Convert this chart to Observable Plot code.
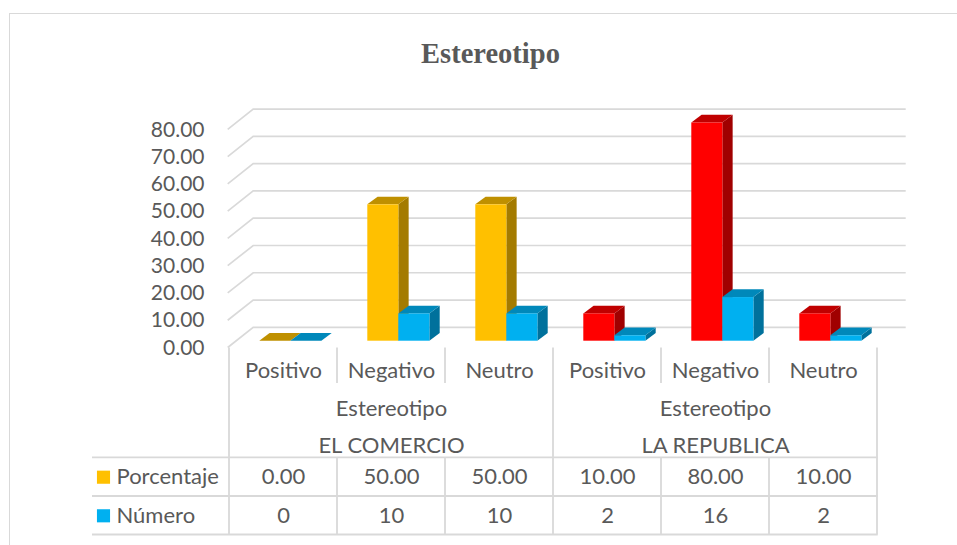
<!DOCTYPE html>
<html>
<head>
<meta charset="utf-8">
<script src="https://cdn.jsdelivr.net/npm/d3@7"></script>
<script src="https://cdn.jsdelivr.net/npm/@observablehq/plot@0.6"></script>
<style>
html, body { margin: 0; padding: 0; background: #fff; overflow: hidden; width: 957px; height: 545px; }
#frame { position: absolute; left: 9px; top: 13px; width: 963px; height: 620px; border: 1.5px solid #d9d9d9; box-sizing: border-box; }
#title { position: absolute; left: 9px; top: 38px; width: 963px; text-align: center; font-family: "Liberation Serif", serif; font-weight: bold; font-size: 28.5px; line-height: 32px; color: #595959; }
#chart { position: absolute; left: 0; top: 90px; }
</style>
</head>
<body>
<div id="frame"></div>
<div id="title">Estereotipo</div>
<div id="chart"></div>
<script>
// ---- data ----
const groups = ["EL COMERCIO", "LA REPUBLICA"];
const groupTitle = "Estereotipo";
const categories = ["Positivo", "Negativo", "Neutro"];
const seriesNames = ["Porcentaje", "Número"];
const porcentaje = [0.00, 50.00, 50.00, 10.00, 80.00, 10.00];
const numero = [0, 10, 10, 2, 16, 2];
const yTicks = [0, 10, 20, 30, 40, 50, 60, 70, 80];

// ---- styles ----
const porcentajeColors = {
  "EL COMERCIO": ["#FFC000", "#BF9000", "#A47B00"],
  "LA REPUBLICA": ["#FF0000", "#C00000", "#A00000"]
};
const numeroColors = ["#00B0F0", "#0088BA", "#00719C"];
const legendColors = ["#FFC000", "#00B0F0"];
const gridColor = "#d9d9d9";
const textColor = "#595959";

// 3D offsets (pixels)
const DX = 25.5, DY = -20.2;      // wall depth
const BX = 7.35, BY = -6.8;       // bar placement inside depth
const DXb = 10.3, DYb = -7.7;     // bar depth

const rows = [];
groups.forEach((g, gi) => categories.forEach((c, ci) => {
  const i = gi * categories.length + ci;
  rows.push({key: g + "|" + c, group: g, category: c, porcentaje: porcentaje[i], numero: numero[i]});
}));
const groupRows = groups.map(g => ({key: g + "|" + categories[1], group: g}));

function walls(index, {x, y}) {
  const g = d3.create("svg:g").attr("fill", "none").attr("stroke", gridColor).attr("stroke-width", 1.7);
  const [x0, x1] = x.range();
  for (const v of yTicks) {
    const yy = y(v);
    g.append("path").attr("d", `M${x0},${yy}L${x0 + DX},${yy + DY}L${x1 + DX + 2.5},${yy + DY}`);
  }
  return g.node();
}

function bars(index, {x, y}) {
  const g = d3.create("svg:g");
  const bw = x.bandwidth();
  const w = bw * 0.2875;
  rows.forEach(d => {
    const cx = x(d.key) + bw / 2 + BX;
    [[d.porcentaje, porcentajeColors[d.group], cx - w], [d.numero, numeroColors, cx]].forEach(([v, col, xl]) => {
      const base = y(0) + BY, top = y(v) + BY, xr = xl + w;
      g.append("path").attr("d", `M${xr},${top}L${xr + DXb},${top + DYb}L${xr + DXb},${base + DYb}L${xr},${base}Z`).attr("fill", col[2]);
      g.append("path").attr("d", `M${xl},${top}L${xr},${top}L${xr + DXb},${top + DYb}L${xl + DXb},${top + DYb}Z`).attr("fill", col[1]);
      g.append("rect").attr("x", xl).attr("y", top).attr("width", w).attr("height", base - top).attr("fill", col[0]);
    });
  });
  return g.node();
}

function tableLines(index, {x, y}) {
  const g = d3.create("svg:g").attr("fill", "none").attr("stroke", gridColor).attr("stroke-width", 1.8);
  const bw = x.bandwidth();
  const [x0, x1] = x.range();
  const floor = y(0);
  const catBottom = floor + 35.5;
  const r1 = floor + 109.8, r2 = floor + 148.5, r3 = floor + 187;
  const n = rows.length;
  for (let k = 0; k <= n; k++) {
    const xb = k < n ? x(rows[k].key) : x(rows[n - 1].key) + bw;
    if (k % categories.length === 0) {
      g.append("path").attr("d", `M${xb},${floor}L${xb},${r3}`);
    } else {
      g.append("path").attr("d", `M${xb},${floor}L${xb},${catBottom}M${xb},${r1}L${xb},${r3}`);
    }
  }
  for (const r of [r1, r2, r3]) {
    g.append("path").attr("d", `M${x0 - 135.7},${r}L${x1},${r}`);
  }
  return g.node();
}

const fs = 21, fsT = 22;
const common = {frameAnchor: "bottom", lineAnchor: "middle", fontSize: fsT, fill: textColor};
const marks = [
  walls,
  Plot.axisY({ticks: yTicks, tickFormat: d => d.toFixed(2), tickSize: 0, tickPadding: 23.7, fontSize: fs}),
  bars,
  tableLines,
  Plot.text(rows, {...common, x: "key", text: "category", dy: 23.2}),
  Plot.text(groupRows, {...common, x: "key", text: () => groupTitle, dy: 60.5}),
  Plot.text(groupRows, {...common, x: "key", text: "group", dy: 97.5}),
  Plot.text(rows, {...common, x: "key", text: d => d.porcentaje.toFixed(2), dy: 129.2}),
  Plot.text(rows, {...common, x: "key", text: d => String(d.numero), dy: 167.8})
];
const legendDy = [129.2, 167.8];
seriesNames.forEach((s, i) => {
  marks.push(Plot.dot([s], {frameAnchor: "bottom-left", symbol: "square", r: 7.4, fill: legendColors[i], stroke: "none", dx: -124.7, dy: legendDy[i]}));
  marks.push(Plot.text([s], {frameAnchor: "bottom-left", lineAnchor: "middle", text: d => d, textAnchor: "start", dx: -111.7, dy: legendDy[i], fontSize: fsT, fill: textColor}));
});

const plot = Plot.plot({
  width: 957,
  height: 455,
  marginLeft: 227.7,
  marginRight: 79.3,
  marginTop: 39.3,
  marginBottom: 197.5,
  x: {type: "band", domain: rows.map(d => d.key), padding: 0, axis: null},
  y: {domain: [0, 80], axis: null},
  style: {fontFamily: "Lato, sans-serif", color: textColor, background: "transparent", overflow: "visible"},
  marks
});
document.getElementById("chart").appendChild(plot);
</script>
</body>
</html>
